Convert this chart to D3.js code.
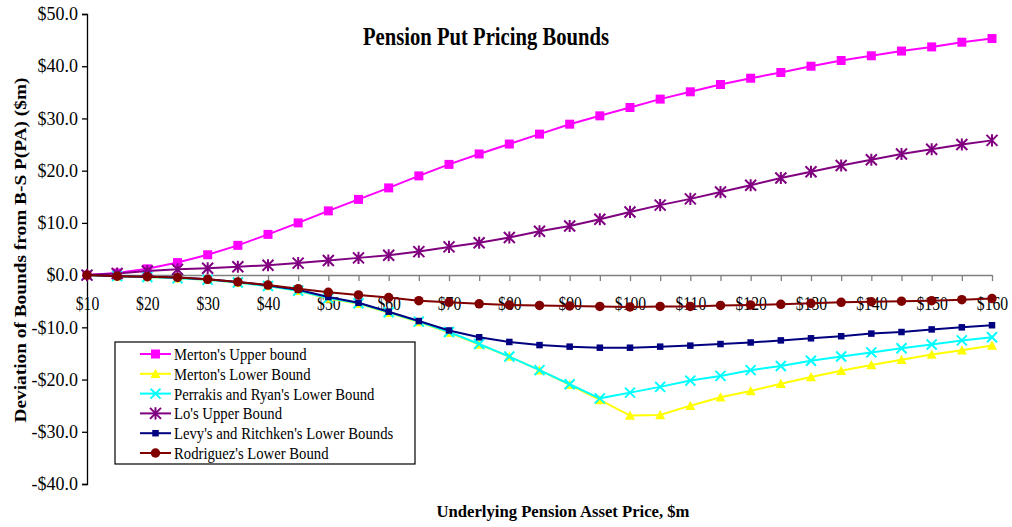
<!DOCTYPE html>
<html>
<head>
<meta charset="utf-8">
<script src="https://cdn.jsdelivr.net/npm/d3@7"></script>
<style>
  html, body { margin: 0; padding: 0; background: #fff; }
  svg { display: block; }
  text { font-family: "Liberation Serif", "Times New Roman", serif; fill: #000; }
</style>
</head>
<body>
<svg id="chart" width="1012" height="527"></svg>
<script>
// Underlying pension asset price ($m) at each category
const assetPrices = [10, 15, 20, 25, 30, 35, 40, 45, 50, 55, 60, 65, 70, 75, 80, 85,
                     90, 95, 100, 105, 110, 115, 120, 125, 130, 135, 140, 145, 150, 155, 160];

// Deviation of each bound from the Black-Scholes put price P(PA), $m
const mertonUpper = [0, 0.4, 1.2, 2.4, 3.9, 5.7, 7.8, 10.0, 12.3, 14.5, 16.7, 19.0, 21.2, 23.2, 25.1, 27.0,
                     28.9, 30.5, 32.1, 33.7, 35.1, 36.5, 37.7, 38.8, 40.0, 41.1, 42.0, 42.9, 43.7, 44.6, 45.3];
const mertonLower = [0, -0.2, -0.35, -0.6, -0.9, -1.4, -2.1, -3.0, -4.5, -5.5, -7.2, -9.0, -11.0, -13.3, -15.6, -18.2,
                     -21.0, -23.9, -26.9, -26.8, -25.0, -23.4, -22.2, -20.8, -19.5, -18.3, -17.2, -16.2, -15.2, -14.4, -13.5];
const perrakisRyanLower = [0, -0.2, -0.35, -0.6, -0.9, -1.4, -2.1, -3.0, -4.4, -5.4, -7.1, -8.9, -10.9, -13.2, -15.6, -18.2,
                     -20.9, -23.6, -22.5, -21.4, -20.2, -19.3, -18.2, -17.4, -16.4, -15.6, -14.8, -14.0, -13.3, -12.5, -11.9];
const loUpper = [0, 0.3, 0.8, 1.1, 1.3, 1.6, 1.9, 2.3, 2.8, 3.3, 3.8, 4.5, 5.4, 6.2, 7.2, 8.4,
                 9.4, 10.7, 12.1, 13.4, 14.6, 15.9, 17.2, 18.6, 19.8, 21.0, 22.1, 23.2, 24.1, 25.0, 25.8];
const levyRitchkenLower = [0, -0.2, -0.3, -0.45, -0.8, -1.3, -2.0, -2.8, -4.2, -5.3, -7.0, -8.8, -10.6, -11.9, -12.8, -13.4,
                 -13.7, -13.9, -13.9, -13.7, -13.5, -13.2, -12.9, -12.5, -12.1, -11.7, -11.2, -10.9, -10.4, -10.0, -9.6];
const rodriguezLower = [0, -0.2, -0.3, -0.45, -0.8, -1.3, -1.9, -2.6, -3.3, -3.8, -4.3, -4.9, -5.2, -5.5, -5.7, -5.8,
                 -5.9, -6.0, -6.1, -6.0, -6.0, -5.8, -5.7, -5.6, -5.4, -5.2, -5.1, -5.0, -4.9, -4.7, -4.5];

const seriesNames = ["Merton's Upper bound", "Merton's Lower Bound", "Perrakis and Ryan's Lower Bound",
                     "Lo's Upper Bound", "Levy's and Ritchken's Lower Bounds", "Rodriguez's Lower Bound"];
const seriesValues = [mertonUpper, mertonLower, perrakisRyanLower, loUpper, levyRitchkenLower, rodriguezLower];

// Axis tick values
const xLabelPrices = [10, 20, 30, 40, 50, 60, 70, 80, 90, 100, 110, 120, 130, 140, 150, 160];
const yTicks = [-40, -30, -20, -10, 0, 10, 20, 30, 40, 50];

// Appearance of each series: colour and marker
const styles = [
  { color: "#FF00FF", marker: "square",   size: 9 },
  { color: "#FFFF00", marker: "triangle", size: 10 },
  { color: "#00FFFF", marker: "cross",    size: 10 },
  { color: "#800080", marker: "star",     size: 11 },
  { color: "#000080", marker: "square",   size: 6.5 },
  { color: "#800000", marker: "circle",   size: 9.5 }
];

const svg = d3.select("#chart");

const x = d3.scalePoint().domain(assetPrices).range([87, 992]);
const y = d3.scaleLinear().domain([-40, 50]).range([484, 14]);

// Shrink a text horizontally by a factor, keeping its height
function squeeze(sel, k) {
  sel.each(function () {
    const w = this.getComputedTextLength();
    d3.select(this).attr("textLength", w * k).attr("lengthAdjust", "spacingAndGlyphs");
  });
}

// Marker outline centred on (0,0)
function markerPath(type, s) {
  const h = s / 2;
  switch (type) {
    case "square":
      return `M${-h},${-h}H${h}V${h}H${-h}Z`;
    case "triangle":
      return `M0,${-h}L${h},${h * 0.85}L${-h},${h * 0.85}Z`;
    case "cross":
      return `M${-h},${-h}L${h},${h}M${-h},${h}L${h},${-h}`;
    case "star":
      return `M${-h},${-h}L${h},${h}M${-h},${h}L${h},${-h}M0,${-h * 1.1}V${h * 1.1}`;
  }
  return "";
}

function drawMarker(g, style) {
  if (style.marker === "circle") {
    g.append("circle").attr("r", style.size / 2).attr("fill", style.color);
  } else if (style.marker === "cross" || style.marker === "star") {
    g.append("path").attr("d", markerPath(style.marker, style.size))
      .attr("fill", "none").attr("stroke", style.color).attr("stroke-width", 2);
  } else {
    g.append("path").attr("d", markerPath(style.marker, style.size)).attr("fill", style.color);
  }
}

// Y axis
const yAxis = svg.append("g").attr("transform", "translate(87,0)")
  .call(d3.axisLeft(y).tickValues(yTicks).tickSize(5).tickPadding(4)
    .tickFormat(d => (d < 0 ? "-$" : "$") + Math.abs(d).toFixed(1)));
yAxis.select(".domain").attr("stroke", "#000").attr("stroke-width", 1.3);
yAxis.selectAll(".tick line").attr("stroke", "#000").attr("stroke-width", 1.3);
yAxis.selectAll(".tick text").style("font-size", "18px").style("font-family", "Liberation Serif");

// X axis along the zero line
const xAxis = svg.append("g").attr("transform", `translate(0,${y(0)})`)
  .call(d3.axisBottom(x).tickSize(6).tickPadding(0).tickSizeOuter(0)
    .tickFormat(d => xLabelPrices.includes(d) ? "$" + d : ""));
xAxis.select(".domain").attr("stroke", "#808080").attr("stroke-width", 1.5);
xAxis.selectAll(".tick line").attr("stroke", "#808080").attr("stroke-width", 1.3);
xAxis.selectAll(".tick text")
  .style("font-size", "18px").style("font-family", "Liberation Serif")
  .attr("y", 0).attr("dy", "1.95em")
  .call(squeeze, 0.87);

// Series: line then markers, later series drawn on top
const line = d3.line().x((d, i) => x(assetPrices[i])).y(d => y(d));
seriesValues.forEach((vals, si) => {
  const st = styles[si];
  const g = svg.append("g").attr("class", "series");
  g.append("path").datum(vals).attr("d", line)
    .attr("fill", "none").attr("stroke", st.color).attr("stroke-width", 2);
  g.selectAll("g.pt").data(vals).join("g").attr("class", "pt")
    .attr("transform", (d, i) => `translate(${x(assetPrices[i])},${y(d)})`)
    .each(function () { drawMarker(d3.select(this), st); });
});

// Title
svg.append("text").attr("x", 486).attr("y", 45).attr("text-anchor", "middle")
  .style("font-size", "25px").style("font-weight", "bold")
  .attr("textLength", 246).attr("lengthAdjust", "spacingAndGlyphs")
  .text("Pension Put Pricing Bounds");

// Axis titles
svg.append("text").attr("x", 563).attr("y", 517).attr("text-anchor", "middle")
  .style("font-size", "17px").style("font-weight", "bold")
  .attr("textLength", 253).attr("lengthAdjust", "spacingAndGlyphs")
  .text("Underlying Pension Asset Price, $m");

svg.append("text").attr("transform", "translate(26,250) rotate(-90)").attr("text-anchor", "middle")
  .style("font-size", "16.5px").style("font-weight", "bold")
  .attr("textLength", 345).attr("lengthAdjust", "spacingAndGlyphs")
  .text("Deviation of Bounds from B-S P(PA) ($m)");

// Legend
const legend = svg.append("g").attr("transform", "translate(115,342)");
legend.append("rect").attr("width", 300).attr("height", 122)
  .attr("fill", "#fff").attr("stroke", "#000").attr("stroke-width", 1.2);
seriesNames.forEach((name, i) => {
  const st = styles[i];
  const row = legend.append("g").attr("transform", `translate(0,${12 + i * 19.8})`);
  row.append("line").attr("x1", 25).attr("x2", 56).attr("stroke", st.color).attr("stroke-width", 2);
  drawMarker(row.append("g").attr("transform", "translate(40.5,0)"), st);
  row.append("text").attr("x", 59).attr("y", 6)
    .style("font-size", "17.5px").text(name).call(squeeze, 0.84);
});
</script>
</body>
</html>
